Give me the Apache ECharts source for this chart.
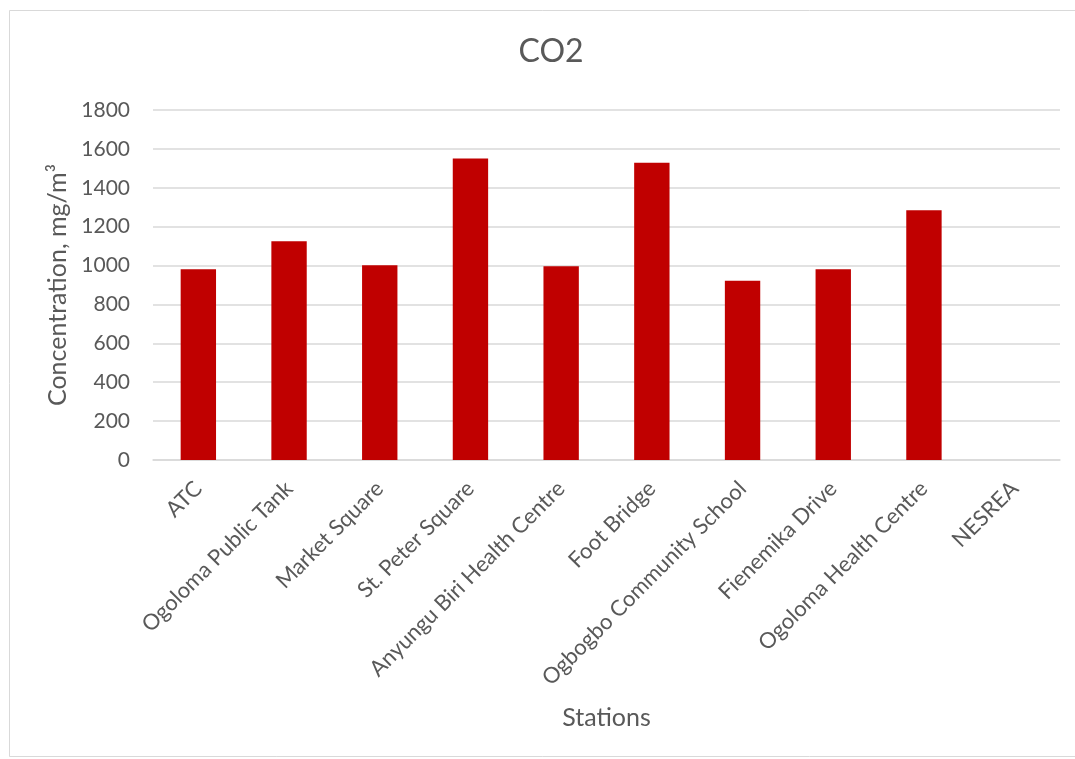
<!DOCTYPE html>
<html>
<head>
<meta charset="utf-8">
<title>CO2</title>
<script src="https://cdn.jsdelivr.net/npm/echarts@6/dist/echarts.min.js"></script>
<style>
  html, body { margin: 0; padding: 0; background: #ffffff; }
  #chart { width: 1075px; height: 759px; }
</style>
</head>
<body>
<div id="chart"></div>
<script>
// Monitoring stations along the category axis
const stations = [
  'ATC',
  'Ogoloma Public Tank',
  'Market Square',
  'St. Peter Square',
  'Anyungu Biri Health Centre',
  'Foot Bridge',
  'Ogbogbo Community School',
  'Fienemika Drive',
  'Ogoloma Health Centre',
  'NESREA'
];

// CO2 concentration at each station (mg/m³)
const co2Values = [981, 1125, 1001, 1550, 996, 1529, 922, 981, 1284, 0];

// Value axis scale
const yMin = 0;
const yMax = 1800;
const yStep = 200;

const textColor = '#595959';
const gridColor = '#d9d9d9';
const fontFamily = 'Lato, "Open Sans", "Noto Sans", sans-serif';

const chart = echarts.init(document.getElementById('chart'), null, { renderer: 'canvas' });

chart.setOption({
  backgroundColor: '#ffffff',
  animation: false,
  textStyle: { fontFamily: fontFamily, color: textColor },
  graphic: [{
    type: 'rect',
    shape: { x: 9.5, y: 10.5, width: 1080, height: 746 },
    style: { fill: 'none', stroke: '#d9d9d9', lineWidth: 1 },
    silent: true,
    z: -10
  }],
  title: {
    text: 'CO2',
    left: 546,
    top: 31,
    textAlign: 'center',
    textStyle: { fontFamily: fontFamily, fontSize: 32, fontWeight: 'normal', color: textColor }
  },
  grid: { left: 153, right: 15, top: 110, bottom: 299, containLabel: false },
  xAxis: {
    type: 'category',
    data: stations,
    name: 'Stations',
    nameLocation: 'middle',
    nameGap: 245,
    nameTextStyle: { fontFamily: fontFamily, fontSize: 25, color: textColor },
    axisLine: { show: true, lineStyle: { color: gridColor, width: 1.5 } },
    axisTick: { show: false },
    axisLabel: {
      interval: 0,
      rotate: 45,
      margin: 25,
      fontFamily: fontFamily,
      fontSize: 22,
      color: textColor
    }
  },
  yAxis: {
    type: 'value',
    min: yMin,
    max: yMax,
    interval: yStep,
    name: 'Concentration, mg/m³',
    nameLocation: 'middle',
    nameGap: 81,
    nameTextStyle: { fontFamily: fontFamily, fontSize: 25, color: textColor },
    axisLine: { show: false },
    axisTick: { show: false },
    axisLabel: {
      margin: 23,
      fontFamily: fontFamily,
      fontSize: 21,
      color: textColor,
      formatter: (v) => String(v)
    },
    splitLine: { show: true, lineStyle: { color: gridColor, width: 1.5 } }
  },
  series: [{
    name: 'CO2',
    type: 'bar',
    data: co2Values,
    barWidth: '39%',
    itemStyle: { color: '#c00000' }
  }]
});
</script>
</body>
</html>
